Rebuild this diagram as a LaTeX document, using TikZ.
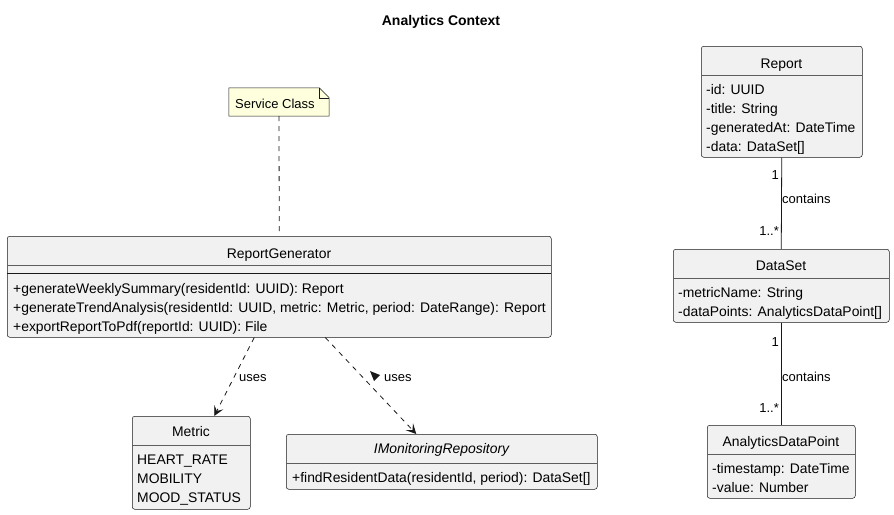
\documentclass[tikz,border=0pt]{standalone}
\usepackage{fontspec}
\setmainfont{Liberation Sans}
\usetikzlibrary{arrows.meta}

\definecolor{boxfill}{HTML}{F1F1F1}
\definecolor{linecol}{HTML}{181818}
\definecolor{notefill}{HTML}{FEFFDD}

\tikzset{
    classbox/.style={draw=linecol, fill=boxfill, line width=0.5pt, rounded corners=2.5pt, inner sep=0pt, anchor=north west},
    headline/.style={draw=linecol!70, line width=0.5pt},
    classname/.style={font=\fontsize{13.9}{16}\selectfont, inner sep=0pt, anchor=base},
    member/.style={font=\fontsize{13.9}{16}\selectfont, inner sep=0pt, anchor=base west},
    small/.style={font=\fontsize{13}{15}\selectfont, inner sep=0pt},
    notelink/.style={linecol, line width=0.8pt, dash pattern=on 5pt off 5pt},
    dep/.style={notelink, -{Stealth[length=10pt, width=10pt, inset=4.5pt, line width=0.8pt]}},
    assoc/.style={linecol, line width=0.8pt},
}

\begin{document}
\begin{tikzpicture}[x=1pt, y=-1pt]
    \useasboundingbox (0,0) rectangle (894,514);
    \node[font=\bfseries\fontsize{14}{16}\selectfont, inner sep=0pt, anchor=base] (title) at (441,25) {Analytics Context};

    % note
    \node[minimum width=100pt, minimum height=28pt, inner sep=0pt] (note) at (279,102) {};
    \draw[linecol, line width=0.5pt, fill=notefill] (note.north west) -- ([xshift=-10pt]note.north east)
        -- ([yshift=-10pt]note.north east) -- (note.south east) -- (note.south west) -- cycle;
    \draw[linecol, line width=0.5pt] ([xshift=-10pt]note.north east) |- ([yshift=-10pt]note.north east);
    \node[small, anchor=base west] (notetext) at (235,108) {Service Class};

    % ReportGenerator
    \node[classbox, minimum width=544pt, minimum height=101pt] (rg) at (7,236) {};
    \draw[headline] (7,265) -- (551,265);
    \draw[linecol, line width=1pt] (7,273) -- (551,273);
    \node[classname] (rgname) at (279,258) {ReportGenerator};
    \foreach \m[count=\i] in {{+generateWeeklySummary(residentId: UUID): Report},
        {+generateTrendAnalysis(residentId: UUID, metric: Metric, period: DateRange): Report},
        {+exportReportToPdf(reportId: UUID): File}} {
        \node[member] (rgop\i) at (13, 274+19*\i) {\m};
    }

    % Metric
    \node[classbox, minimum width=118pt, minimum height=93pt] (metric) at (132,416) {};
    \draw[headline] (132,445) -- (250,445);
    \node[classname] (metricname) at (191,436) {Metric};
    \foreach \v[count=\i] in {HEART\_RATE, MOBILITY, MOOD\_STATUS} {
        \node[member] (metricval\i) at (137, 445+19*\i) {\v};
    }

    % IMonitoringRepository
    \node[classbox, minimum width=311pt, minimum height=55pt] (imon) at (286,434) {};
    \draw[headline] (286,463) -- (597,463);
    \node[classname, font=\itshape\fontsize{13.9}{16}\selectfont] (imonname) at (441.5,453) {IMonitoringRepository};
    \node[member] (imonop1) at (292,482) {+findResidentData(residentId, period): DataSet[]};

    % Report
    \node[classbox, minimum width=161pt, minimum height=111pt] (report) at (701,46) {};
    \draw[headline] (701,75) -- (862,75);
    \node[classname] (reportname) at (781.5,68) {Report};
    \foreach \a[count=\i] in {-id: UUID, -title: String, -generatedAt: DateTime, -data: DataSet[]} {
        \node[member] (reportattr\i) at (706, 75+19*\i) {\a};
    }

    % DataSet
    \node[classbox, minimum width=216pt, minimum height=73pt] (dataset) at (673,249) {};
    \draw[headline] (673,278) -- (889,278);
    \node[classname] (datasetname) at (781,270) {DataSet};
    \foreach \a[count=\i] in {-metricName: String, -dataPoints: AnalyticsDataPoint[]} {
        \node[member] (datasetattr\i) at (678, 278+19*\i) {\a};
    }

    % AnalyticsDataPoint
    \node[classbox, minimum width=148pt, minimum height=73pt] (adp) at (707,425) {};
    \draw[headline] (707,454) -- (855,454);
    \node[classname] (adpname) at (781,446) {AnalyticsDataPoint};
    \foreach \a[count=\i] in {-timestamp: DateTime, -value: Number} {
        \node[member] (adpattr\i) at (712, 454+19*\i) {\a};
    }

    % links
    \draw[notelink] (note.south) -- (rg.north);
    \draw[dep] ([xshift=-25pt]rg.south) -- ([xshift=23pt]metric.north);
    \draw[dep] ([xshift=46pt]rg.south) -- ([xshift=-25.5pt]imon.north);
    \node[small, anchor=west] (uses1) at (239,378) {uses};
    \node[small, anchor=west] (uses2) at (384,378) {uses};
    \fill[linecol] (370,371) -- (380,375) -- (374,381) -- cycle;

    \draw[assoc] (report.south) -- (dataset.north);
    \node[small, anchor=east] (mult1a) at (779,175) {1};
    \node[small, anchor=west] (contains1) at (782,199) {contains};
    \node[small, anchor=east] (mult1b) at (779,231) {1..*};

    \draw[assoc] (dataset.south) -- (adp.north);
    \node[small, anchor=east] (mult2a) at (779,342) {1};
    \node[small, anchor=west] (contains2) at (782,377) {contains};
    \node[small, anchor=east] (mult2b) at (779,408) {1..*};
\end{tikzpicture}
\end{document}
